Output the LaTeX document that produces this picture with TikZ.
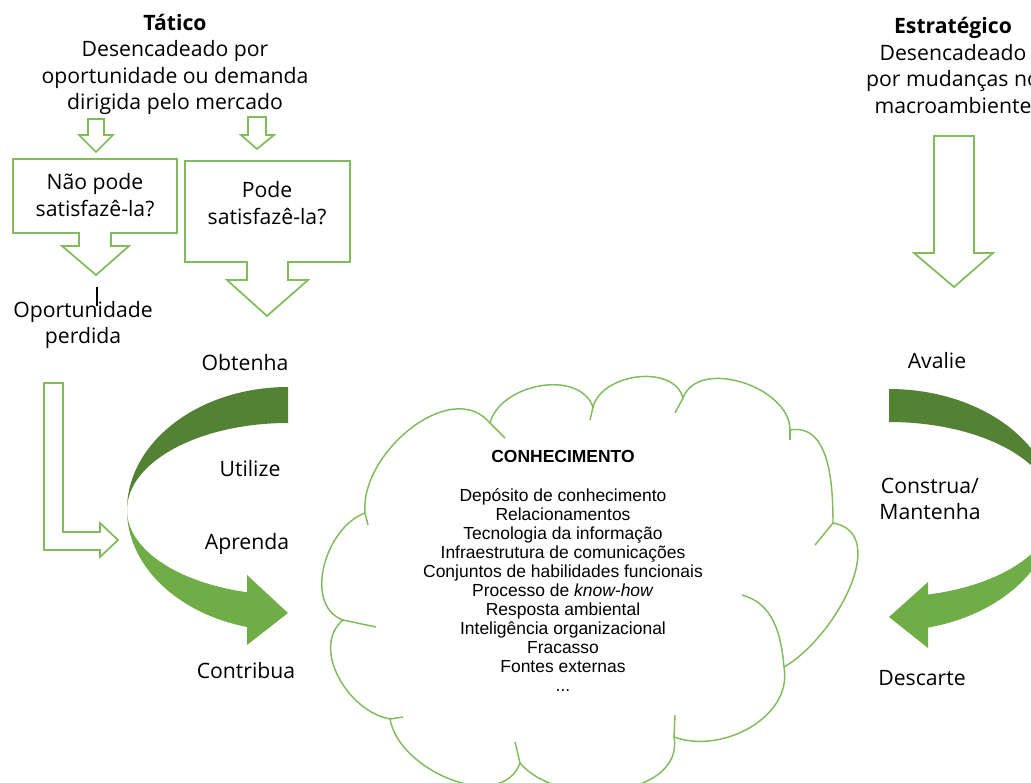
\documentclass[tikz,border=0pt]{standalone}
\usepackage{fontspec}
\setmainfont{Open Sans}
\newfontfamily\cloudfont{Liberation Sans}
\usepackage{xcolor}
\definecolor{darkleaf}{RGB}{84,130,53}
\definecolor{lightleaf}{RGB}{112,173,71}
\definecolor{outline}{RGB}{128,188,92}

\begin{document}
\begin{tikzpicture}[x=0.75pt, y=-0.75pt,
	lbl/.style={align=center, inner sep=0pt, font=\fontsize{15.9}{19.9}\selectfont},
	kn/.style={align=center, inner sep=0pt, font=\cloudfont\fontsize{13.1}{14.3}\selectfont},
	hollow/.style={draw=outline, line width=1.3pt, line join=miter},
	cloudline/.style={draw=outline, line width=1.1pt}]
	\useasboundingbox (0,0) rectangle (1031,782);
	\clip (0,0) rectangle (1031,782);

	% left side
	\node[lbl] (tatico) at (175,64.5) {\textbf{Tático}\\Desencadeado por\\oportunidade ou demanda\\dirigida pelo mercado};
	\draw[hollow] (88,119) -- (104,119) -- (104,135) -- (113,135) -- (96,152) -- (79,135) -- (88,135) -- cycle;
	\draw[hollow] (248,117) -- (266,117) -- (266,135) -- (274,135) -- (257,149) -- (241,135) -- (248,135) -- cycle;
	\draw[hollow] (13,159) -- (177,159) -- (177,233) -- (111,233) -- (111,246) -- (129,246) -- (96,275) -- (62,246) -- (79,246) -- (79,233) -- (13,233) -- cycle;
	\draw[hollow] (185,161) -- (350,161) -- (350,262) -- (288,262) -- (288,280) -- (308,280) -- (267,316) -- (227,280) -- (247,280) -- (247,262) -- (185,262) -- cycle;
	\node[lbl] (naopode) at (95,195) {Não pode\\satisfazê-la?};
	\node[lbl] (pode) at (267,203) {Pode\\satisfazê-la?};
	\node[lbl] (perdida) at (83,325) {Oportunidade\\perdida};
	\draw[black, line width=0.8pt] (97,287) -- (97,306);
	\draw[hollow] (44,383) -- (63,383) -- (63,532) -- (100,532) -- (100,523) -- (118,540) -- (100,557) -- (100,550) -- (44,550) -- cycle;

	\fill[darkleaf] (288,387) arc[start angle=270, end angle=180, x radius=161, y radius=123] arc[start angle=180, end angle=270, x radius=161, y radius=87] -- cycle;
	\fill[lightleaf] (127,510) arc[start angle=180, end angle=104.75, x radius=161, y radius=85] -- (247,575) -- (288,613) -- (247,645) -- (247,627) arc[start angle=104.75, end angle=180, x radius=161, y radius=121] -- cycle;
	\node[lbl] (obtenha) at (245,363) {Obtenha};
	\node[lbl] (utilize) at (250,469) {Utilize};
	\node[lbl] (aprenda) at (247,544) {Aprenda};
	\node[lbl] (contribua) at (246,671) {Contribua};

	% right side
	\node[lbl] (estrategico) at (953,65.5) {\textbf{Estratégico}\\Desencadeado\\por mudanças no\\macroambiente};
	\draw[hollow] (934,136) -- (974,136) -- (974,253) -- (993,253) -- (954,287) -- (914,253) -- (934,253) -- cycle;
	\fill[darkleaf] (889,389) arc[start angle=270, end angle=360, x radius=165, y radius=121] arc[start angle=0, end angle=-90, x radius=165, y radius=88] -- cycle;
	\fill[lightleaf] (1054,510) arc[start angle=0, end angle=76.3, x radius=165, y radius=87] -- (928,582) -- (889,617) -- (928,648) -- (928,627.6) arc[start angle=76.3, end angle=0, x radius=165, y radius=121] -- cycle;
	\node[lbl] (avalie) at (937,361) {Avalie};
	\node[lbl] (construa) at (930,499) {Construa/\\Mantenha};
	\node[lbl] (descarte) at (922,678) {Descarte};

	% cloud
	\draw[cloudline] (365,513) to[out=95, in=130] (490,423)
		to[out=75, in=110] (593,407)
		to[out=75, in=105] (683,398)
		to[out=70, in=90] (790,430)
		to[out=10, in=90] (833,523)
		to[out=-10, in=30] (784,667)
		to[out=-80, in=-20] (674,737)
		to[out=-80, in=-50] (520,763)
		to[out=-110, in=-80] (390,719)
		to[out=170, in=220] (343,620)
		to[out=160, in=200] (365,513);
	\draw[cloudline] (365,513) -- (368,525);
	\draw[cloudline] (490,423) -- (505,438);
	\draw[cloudline] (593,407) -- (590,420);
	\draw[cloudline] (683,398) -- (675,413);
	\draw[cloudline] (790,430) -- (790,440);
	\draw[cloudline] (833,523) -- (815,545);
	\draw[cloudline] (742,595) to[out=-15, in=95] (784,667);
	\draw[cloudline] (674,737) -- (675,715);
	\draw[cloudline] (520,763) -- (515,742);
	\draw[cloudline] (390,719) -- (403,717);
	\draw[cloudline] (343,620) -- (376,627);
	\node[kn] (conhecimento) at (563,456) {\textbf{CONHECIMENTO}};
	\node[kn] (itens) at (563,590) {Depósito de conhecimento\\Relacionamentos\\Tecnologia da informação\\Infraestrutura de comunicações\\Conjuntos de habilidades funcionais\\Processo de \textit{know-how}\\Resposta ambiental\\Inteligência organizacional\\Fracasso\\Fontes externas\\...};
\end{tikzpicture}
\end{document}
